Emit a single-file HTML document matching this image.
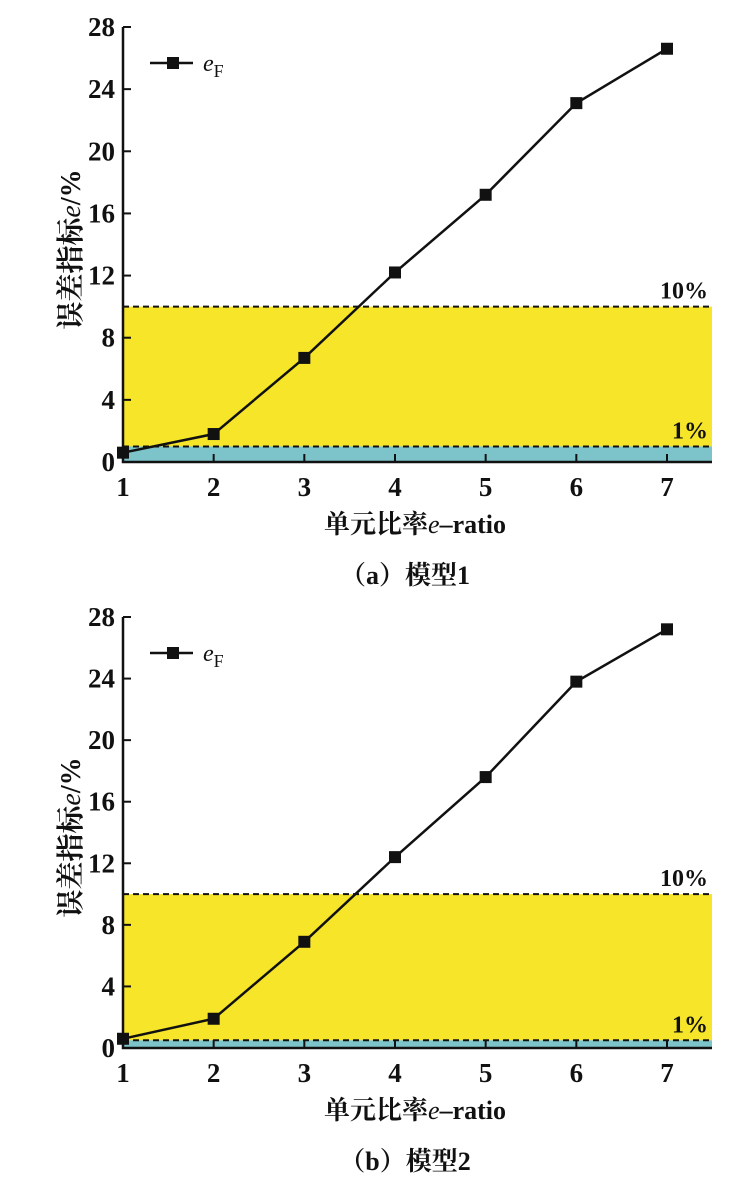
<!DOCTYPE html>
<html><head><meta charset="utf-8"><style>
html,body{margin:0;padding:0;background:#fff;width:755px;height:1195px;overflow:hidden}
svg text{font-family:"Liberation Serif","Noto Serif CJK SC",serif;fill:#111}
</style></head><body>
<svg id="svg" width="755" height="1195"></svg>
<script>
const categories=[1,2,3,4,5,6,7];
const seriesA=[0.6,1.8,6.7,12.2,17.2,23.1,26.6];
const seriesB=[0.6,1.9,6.9,12.4,17.6,23.8,27.2];
const yTicks=[0,4,8,12,16,20,24,28];
const thresholdsA=[1,10];
const thresholdsB=[0.5,10];
const captions=["（a）模型1","（b）模型2"];
const NS="http://www.w3.org/2000/svg";
const svg=document.getElementById('svg');
function mk(tag,attrs,parent,txt){const e=document.createElementNS(NS,tag);for(const k in attrs)e.setAttribute(k,attrs[k]);if(txt!==undefined)e.textContent=txt;(parent||svg).appendChild(e);return e;}
function chart(idx,series,th,y0,y28){
  const g=mk('g',{});
  
  
  const xL=123,xR=712;
  const X=v=>123+(v-1)*(667-123)/6;
  const Y=v=>y0+(y28-y0)*v/28;
  const b1=mk('rect',{x:xL,y:Y(th[1]),width:xR-xL,height:Y(th[0])-Y(th[1]),fill:'#f6e529'},g);
  
  const b2=mk('rect',{x:xL,y:Y(th[0]),width:xR-xL,height:Y(0)-Y(th[0]),fill:'#7cc4c9'},g);
  
  th.forEach((t,i)=>{
    const l=mk('line',{x1:xL,x2:xR,y1:Y(t),y2:Y(t),stroke:'#111','stroke-width':2,'stroke-dasharray':'6,4'},g);
    
    const tx=mk('text',{x:708,y:Y(t)-8,'text-anchor':'end','font-size':24,'font-weight':'bold'},g,i?'10%':'1%');
    
  });
  const ax=mk('path',{d:`M${xL} ${Y(28)}V${Y(0)}H${xR}`,stroke:'#111','stroke-width':2.5,fill:'none'},g);
  
  yTicks.forEach(t=>{
    mk('line',{x1:xL,x2:xL+8,y1:Y(t),y2:Y(t),stroke:'#111','stroke-width':2},g);
    const tl=mk('text',{x:xL-8,y:Y(t)+9,'text-anchor':'end','font-size':27,'font-weight':'bold'},g,t);
    
  });
  categories.forEach(c=>{
    mk('line',{x1:X(c),x2:X(c),y1:Y(0),y2:Y(0)-8,stroke:'#111','stroke-width':2},g);
    const tl=mk('text',{x:X(c),y:Y(0)+34,'text-anchor':'middle','font-size':27,'font-weight':'bold'},g,c);
    
  });
  const pl=mk('polyline',{points:series.map((v,i)=>X(categories[i])+','+Y(v)).join(' '),fill:'none',stroke:'#111','stroke-width':2.5},g);
  
  series.forEach((v,i)=>{
    const r=mk('rect',{x:X(categories[i])-6,y:Y(v)-6,width:12,height:12,fill:'#111'},g);
    
  });
  const ly=Y(28)+36;
  mk('line',{x1:150,x2:193,y1:ly,y2:ly,stroke:'#111','stroke-width':2.5},g);
  mk('rect',{x:167,y:ly-6,width:12,height:12,fill:'#111'},g);
  const lt=mk('text',{x:203,y:ly+8,'font-size':24,'font-style':'italic'},g);
  
  lt.innerHTML='e<tspan font-size="18" font-style="normal" dy="6">F</tspan>';
  const yt=mk('text',{transform:`translate(80,${(Y(0)+Y(28))/2+5}) rotate(-90)`,'text-anchor':'middle','font-size':28,'font-weight':'bold'},g);
  
  yt.innerHTML='误差指标<tspan font-style="italic" font-weight="normal">e</tspan>/%';
  const xt=mk('text',{x:415,y:Y(0)+71,'text-anchor':'middle','font-size':26,'font-weight':'bold'},g);
  
  xt.innerHTML='单元比率<tspan font-style="italic" font-weight="normal">e</tspan>–ratio';
  const cp=mk('text',{x:405,y:Y(0)+122,'text-anchor':'middle','font-size':26,'font-weight':'bold'},g,captions[idx]);
  
}
chart(0,seriesA,thresholdsA,462,27);
chart(1,seriesB,thresholdsB,1048,617);
</script>
</body></html>
